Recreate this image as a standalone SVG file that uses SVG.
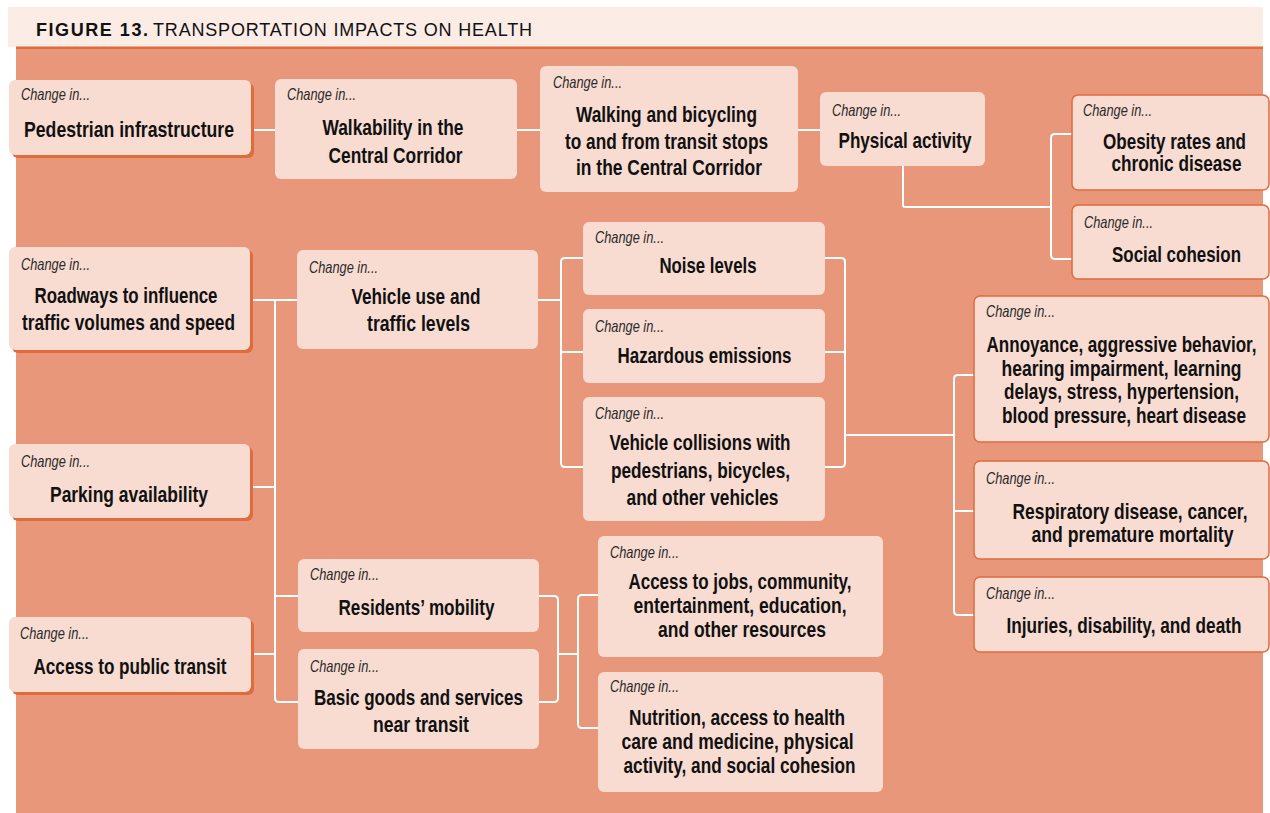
<svg xmlns="http://www.w3.org/2000/svg" width="1270" height="813" viewBox="0 0 1270 813">
<style>
.bx{fill:#f8dcd1}
.sh{fill:#e06b3c}
.bd{fill:#f8dcd1;stroke:#e06b3c;stroke-width:1.5}
.ci{font-family:"Liberation Sans",Arial,sans-serif;font-style:italic;font-size:16.5px;fill:#2a2a2a}
.t{font-family:"Liberation Sans",Arial,sans-serif;font-weight:bold;font-size:21.5px;text-anchor:middle;fill:#111}
.cn{fill:none;stroke:#fff;stroke-width:2}
</style>
<rect x="8" y="7" width="1255" height="40" fill="#fbece6"/>
<rect x="16" y="47" width="1247" height="766" fill="#e8977a"/>
<rect x="16" y="46.5" width="1247" height="2.5" fill="#e06b3c"/>
<text x="36" y="36" font-family="Liberation Sans, Arial, sans-serif" font-size="18" font-weight="bold" fill="#111" textLength="112" lengthAdjust="spacing">FIGURE 13.</text>
<text x="153" y="36" font-family="Liberation Sans, Arial, sans-serif" font-size="18" fill="#111" textLength="379" lengthAdjust="spacing">TRANSPORTATION IMPACTS ON HEALTH</text>

<g id="connectors">
<path class="cn" d="M252,130H275M517,130H540M798,130H820"/>
<path class="cn" d="M903,166V205Q903,207 905,207H1051"/>
<path class="cn" d="M1072,134H1055Q1051,134 1051,138V255Q1051,259 1055,259H1072"/>
<path class="cn" d="M252,300H297M275,300V698Q275,702 279,702H298M252,487H275M252,654H275M275,596H298"/>
<path class="cn" d="M538,300H561M583,258H565Q561,258 561,262V463Q561,467 565,467H583M561,352H583"/>
<path class="cn" d="M825,258H841Q845,258 845,262V463Q845,467 841,467H825M825,352H845M845,435H954"/>
<path class="cn" d="M974,375H958Q954,375 954,379V611Q954,615 958,615H974M954,511H974"/>
<path class="cn" d="M539,596H554Q558,596 558,600V698Q558,702 554,702H539M558,654H578"/>
<path class="cn" d="M598,595H582Q578,595 578,599V724Q578,728 582,728H598"/>
</g>

<g id="n_ped"><rect class="sh" x="12" y="83" width="242" height="75" rx="6"/><rect class="bx" x="9" y="80" width="242" height="75" rx="6"/>
<text class="ci" x="21" y="100" textLength="69" lengthAdjust="spacingAndGlyphs">Change in...</text><text class="t" x="129" y="137" textLength="210" lengthAdjust="spacingAndGlyphs">Pedestrian infrastructure</text></g>

<g id="n_road"><rect class="sh" x="12" y="250" width="241" height="103" rx="6"/><rect class="bx" x="9" y="247" width="241" height="103" rx="6"/>
<text class="ci" x="21" y="270" textLength="69" lengthAdjust="spacingAndGlyphs">Change in...</text><text class="t" x="126" y="303" textLength="183" lengthAdjust="spacingAndGlyphs">Roadways to influence</text><text class="t" x="128.5" y="330" textLength="213" lengthAdjust="spacingAndGlyphs">traffic volumes and speed</text></g>

<g id="n_park"><rect class="sh" x="12" y="447" width="241" height="74" rx="6"/><rect class="bx" x="9" y="444" width="241" height="74" rx="6"/>
<text class="ci" x="21" y="466.5" textLength="69" lengthAdjust="spacingAndGlyphs">Change in...</text><text class="t" x="129" y="501.5" textLength="158" lengthAdjust="spacingAndGlyphs">Parking availability</text></g>

<g id="n_access"><rect class="sh" x="12" y="620" width="242" height="75" rx="6"/><rect class="bx" x="9" y="617" width="242" height="75" rx="6"/>
<text class="ci" x="20" y="639" textLength="69" lengthAdjust="spacingAndGlyphs">Change in...</text><text class="t" x="130" y="674" textLength="193" lengthAdjust="spacingAndGlyphs">Access to public transit</text></g>

<g id="n_walk"><rect class="bx" x="275" y="79" width="242" height="100" rx="6"/>
<text class="ci" x="287" y="100" textLength="69" lengthAdjust="spacingAndGlyphs">Change in...</text><text class="t" x="393" y="135" textLength="141" lengthAdjust="spacingAndGlyphs">Walkability in the</text><text class="t" x="395.5" y="163" textLength="134" lengthAdjust="spacingAndGlyphs">Central Corridor</text></g>

<g id="n_veh"><rect class="bx" x="297" y="250" width="241" height="99" rx="6"/>
<text class="ci" x="309" y="272.5" textLength="69" lengthAdjust="spacingAndGlyphs">Change in...</text><text class="t" x="416" y="304" textLength="129" lengthAdjust="spacingAndGlyphs">Vehicle use and</text><text class="t" x="418.5" y="330.5" textLength="103" lengthAdjust="spacingAndGlyphs">traffic levels</text></g>

<g id="n_res"><rect class="bx" x="298" y="559" width="241" height="73" rx="6"/>
<text class="ci" x="310" y="580" textLength="69" lengthAdjust="spacingAndGlyphs">Change in...</text><text class="t" x="416.5" y="615" textLength="156" lengthAdjust="spacingAndGlyphs">Residents’ mobility</text></g>

<g id="n_basic"><rect class="bx" x="298" y="649" width="241" height="100" rx="6"/>
<text class="ci" x="310" y="671.5" textLength="69" lengthAdjust="spacingAndGlyphs">Change in...</text><text class="t" x="418.5" y="705" textLength="209" lengthAdjust="spacingAndGlyphs">Basic goods and services</text><text class="t" x="421" y="731.5" textLength="96" lengthAdjust="spacingAndGlyphs">near transit</text></g>

<g id="n_wb"><rect class="bx" x="540" y="66" width="258" height="126" rx="6"/>
<text class="ci" x="553" y="88" textLength="69" lengthAdjust="spacingAndGlyphs">Change in...</text><text class="t" x="666.5" y="121.5" textLength="181" lengthAdjust="spacingAndGlyphs">Walking and bicycling</text><text class="t" x="666.5" y="148.5" textLength="203" lengthAdjust="spacingAndGlyphs">to and from transit stops</text><text class="t" x="669" y="175" textLength="186" lengthAdjust="spacingAndGlyphs">in the Central Corridor</text></g>

<g id="n_noise"><rect class="bx" x="583" y="222" width="242" height="73" rx="6"/>
<text class="ci" x="595" y="243" textLength="69" lengthAdjust="spacingAndGlyphs">Change in...</text><text class="t" x="708" y="273" textLength="97" lengthAdjust="spacingAndGlyphs">Noise levels</text></g>

<g id="n_haz"><rect class="bx" x="583" y="309" width="242" height="74" rx="6"/>
<text class="ci" x="595" y="331.5" textLength="69" lengthAdjust="spacingAndGlyphs">Change in...</text><text class="t" x="704.5" y="363" textLength="174" lengthAdjust="spacingAndGlyphs">Hazardous emissions</text></g>

<g id="n_coll"><rect class="bx" x="583" y="397" width="242" height="124" rx="6"/>
<text class="ci" x="595" y="419" textLength="69" lengthAdjust="spacingAndGlyphs">Change in...</text><text class="t" x="700" y="450" textLength="181" lengthAdjust="spacingAndGlyphs">Vehicle collisions with</text><text class="t" x="700.5" y="477.5" textLength="179" lengthAdjust="spacingAndGlyphs">pedestrians, bicycles,</text><text class="t" x="702.5" y="505" textLength="152" lengthAdjust="spacingAndGlyphs">and other vehicles</text></g>

<g id="n_jobs"><rect class="bx" x="598" y="536" width="285" height="121" rx="6"/>
<text class="ci" x="610" y="558" textLength="69" lengthAdjust="spacingAndGlyphs">Change in...</text><text class="t" x="740" y="589" textLength="223" lengthAdjust="spacingAndGlyphs">Access to jobs, community,</text><text class="t" x="740" y="613" textLength="213" lengthAdjust="spacingAndGlyphs">entertainment, education,</text><text class="t" x="742" y="636.5" textLength="168" lengthAdjust="spacingAndGlyphs">and other resources</text></g>

<g id="n_nut"><rect class="bx" x="598" y="672" width="285" height="120" rx="6"/>
<text class="ci" x="610" y="691.5" textLength="69" lengthAdjust="spacingAndGlyphs">Change in...</text><text class="t" x="737" y="725" textLength="216" lengthAdjust="spacingAndGlyphs">Nutrition, access to health</text><text class="t" x="737.5" y="749" textLength="232" lengthAdjust="spacingAndGlyphs">care and medicine, physical</text><text class="t" x="739.5" y="773" textLength="232" lengthAdjust="spacingAndGlyphs">activity, and social cohesion</text></g>

<g id="n_phys"><rect class="bx" x="820" y="92" width="165" height="74" rx="6"/>
<text class="ci" x="832" y="116" textLength="69" lengthAdjust="spacingAndGlyphs">Change in...</text><text class="t" x="905" y="148" textLength="133" lengthAdjust="spacingAndGlyphs">Physical activity</text></g>

<g id="n_obes"><rect class="bd" x="1072" y="95" width="197" height="95" rx="6"/>
<text class="ci" x="1083" y="116" textLength="69" lengthAdjust="spacingAndGlyphs">Change in...</text><text class="t" x="1174.5" y="149" textLength="143" lengthAdjust="spacingAndGlyphs">Obesity rates and</text><text class="t" x="1176.5" y="171" textLength="130" lengthAdjust="spacingAndGlyphs">chronic disease</text></g>

<g id="n_soc"><rect class="bd" x="1072" y="205" width="197" height="74" rx="6"/>
<text class="ci" x="1084" y="227.5" textLength="69" lengthAdjust="spacingAndGlyphs">Change in...</text><text class="t" x="1176.5" y="261.5" textLength="129" lengthAdjust="spacingAndGlyphs">Social cohesion</text></g>

<g id="n_ann"><rect class="bd" x="974" y="296" width="295" height="146" rx="6"/>
<text class="ci" x="986" y="317" textLength="69" lengthAdjust="spacingAndGlyphs">Change in...</text><text class="t" x="1121.5" y="351.5" textLength="270" lengthAdjust="spacingAndGlyphs">Annoyance, aggressive behavior,</text><text class="t" x="1121.5" y="375.5" textLength="240" lengthAdjust="spacingAndGlyphs">hearing impairment, learning</text><text class="t" x="1121.5" y="399" textLength="235" lengthAdjust="spacingAndGlyphs">delays, stress, hypertension,</text><text class="t" x="1124" y="423" textLength="244" lengthAdjust="spacingAndGlyphs">blood pressure, heart disease</text></g>

<g id="n_resp"><rect class="bd" x="974" y="461" width="295" height="98" rx="6"/>
<text class="ci" x="986" y="484" textLength="69" lengthAdjust="spacingAndGlyphs">Change in...</text><text class="t" x="1130" y="519" textLength="235" lengthAdjust="spacingAndGlyphs">Respiratory disease, cancer,</text><text class="t" x="1132.5" y="542" textLength="202" lengthAdjust="spacingAndGlyphs">and premature mortality</text></g>

<g id="n_inj"><rect class="bd" x="974" y="577" width="295" height="75" rx="6"/>
<text class="ci" x="986" y="599" textLength="69" lengthAdjust="spacingAndGlyphs">Change in...</text><text class="t" x="1124" y="632.5" textLength="235" lengthAdjust="spacingAndGlyphs">Injuries, disability, and death</text></g>
</svg>
